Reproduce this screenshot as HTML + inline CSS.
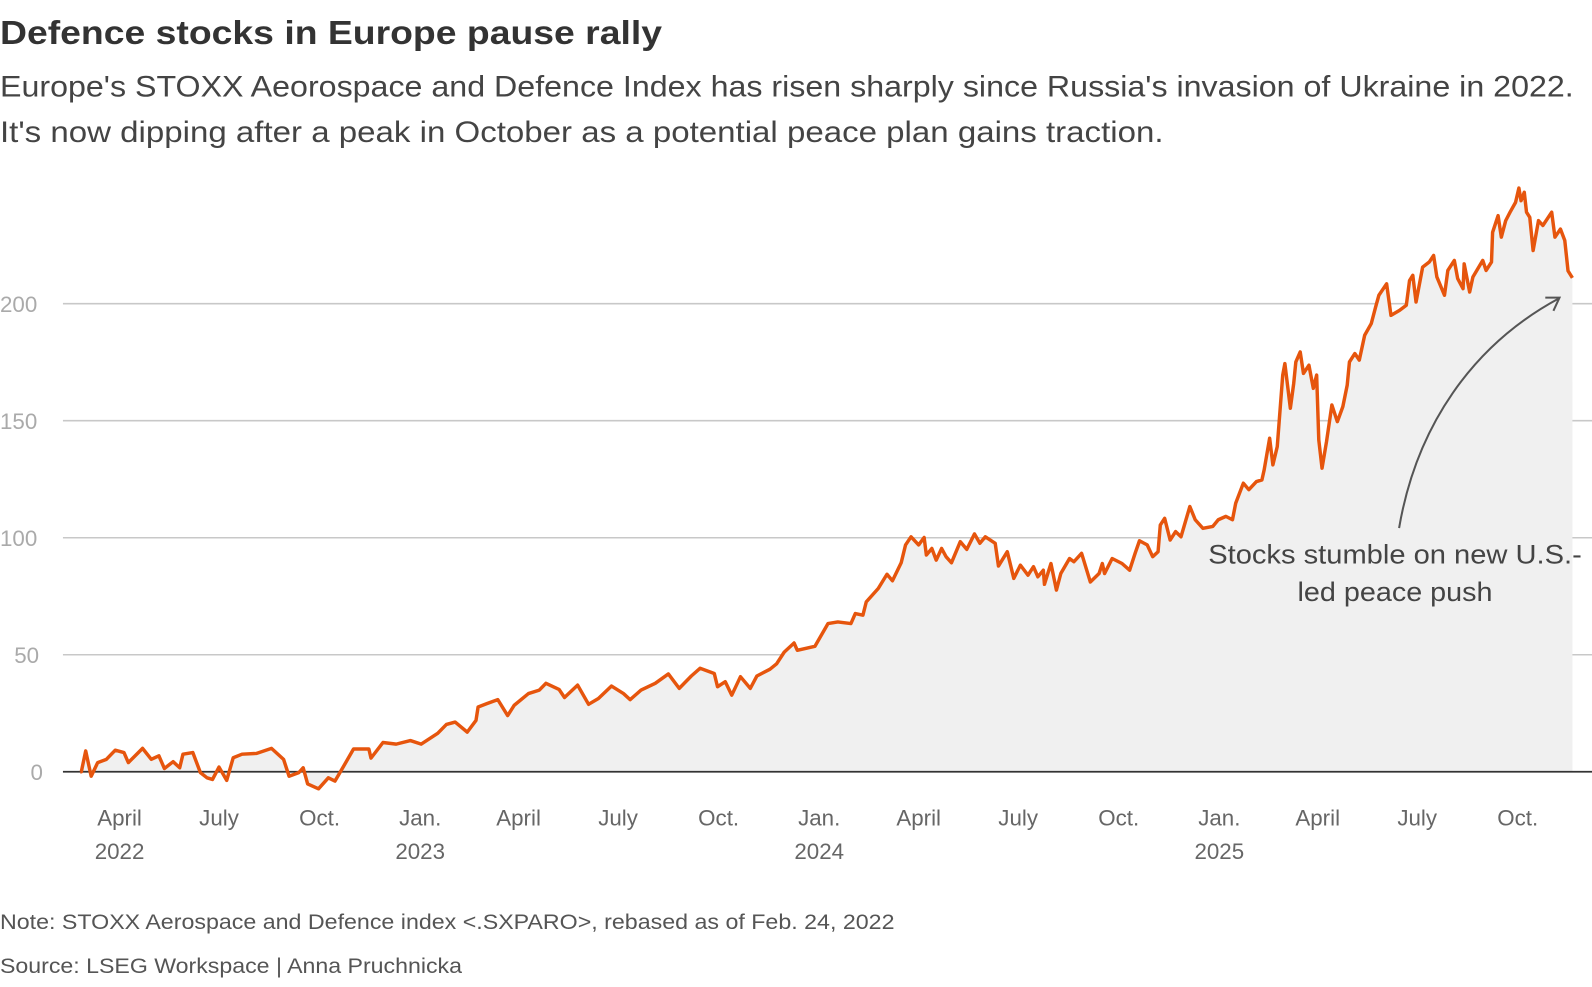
<!DOCTYPE html>
<html><head><meta charset="utf-8"><style>
body{margin:0;background:#fff;width:1592px;height:982px;overflow:hidden;font-family:"Liberation Sans",sans-serif;}
</style></head><body>
<svg width="1592" height="982" viewBox="0 0 1568 967" xmlns="http://www.w3.org/2000/svg">
<text x="0" y="43" font-size="33" font-weight="bold" fill="#333" textLength="652" lengthAdjust="spacingAndGlyphs">Defence stocks in Europe pause rally</text>
<text x="0" y="95" font-size="29" fill="#444" textLength="1550" lengthAdjust="spacingAndGlyphs">Europe's STOXX Aeorospace and Defence Index has risen sharply since Russia's invasion of Ukraine in 2022.</text>
<text x="0" y="140" font-size="29" fill="#444" textLength="1146" lengthAdjust="spacingAndGlyphs">It's now dipping after a peak in October as a potential peace plan gains traction.</text>
<g id="grid"></g>
<g id="area"></g>
<g id="xt"></g>
<text x="1190" y="555" font-size="26" fill="#444" textLength="368" lengthAdjust="spacingAndGlyphs">Stocks stumble on new U.S.-</text>
<text x="1278" y="592" font-size="26" fill="#444" textLength="192" lengthAdjust="spacingAndGlyphs">led peace push</text>
<path d="M1378,520 C1395,420 1450,340 1535,294" fill="none" stroke="#555" stroke-width="2"/>
<path d="M1522,293 L1536,293 L1530,306" fill="none" stroke="#555" stroke-width="2"/>
<text x="0" y="915" font-size="21" fill="#555" textLength="881" lengthAdjust="spacingAndGlyphs">Note: STOXX Aerospace and Defence index &lt;.SXPARO&gt;, rebased as of Feb. 24, 2022</text>
<text x="0" y="958" font-size="21" fill="#555" textLength="455" lengthAdjust="spacingAndGlyphs">Source: LSEG Workspace | Anna Pruchnicka</text>
</svg>
<script>
const days=[0,1,5,10,16,24,32,40,44,57,65,72,77,85,91,94,103,110,116,121,127,134,140,148,161,175,186,191,200,204,208,218,227,233,241,250,264,266,277,289,302,312,327,335,343,354,362,364,372,382,391,397,410,420,426,438,443,455,465,474,486,497,503,513,526,538,548,559,567,580,583,590,596,604,613,619,631,637,644,653,656,672,684,693,705,709,716,719,730,738,743,751,755,760,767,772,774,779,783,788,792,797,805,811,818,823,828,837,840,848,854,860,867,872,876,881,882,888,893,897,905,909,916,924,932,935,937,944,953,960,965,969,976,981,986,988,992,997,1002,1007,1015,1020,1027,1036,1041,1048,1054,1057,1064,1069,1076,1081,1083,1088,1091,1095,1100,1102,1107,1110,1112,1116,1119,1124,1128,1131,1133,1136,1140,1145,1150,1155,1159,1161,1166,1170,1175,1181,1185,1188,1195,1199,1207,1213,1216,1219,1222,1228,1234,1238,1241,1248,1251,1257,1260,1265,1266,1271,1274,1283,1286,1291,1292,1297,1300,1304,1308,1313,1316,1318,1321,1323,1326,1329,1334,1338,1346,1349,1354,1358,1361,1365];
const values=[0,0,8.9,-1.9,3.9,5.3,9.2,8.2,3.9,10,5.3,6.8,1.4,4.3,1.7,7.5,8.2,-0.4,-2.6,-3.3,2,-3.7,6,7.5,7.8,10,5.3,-1.9,-0.4,1.7,-5.2,-7.3,-2.6,-4,2.4,9.7,9.7,5.8,12.5,11.8,13.3,11.8,16.4,20.2,21.2,16.9,21.9,27.7,29.1,30.8,24,28.4,33.4,34.9,37.8,35.2,31.7,37,28.8,31.3,36.6,33.4,30.8,34.9,37.8,41.8,35.6,40.9,44.2,42,36.3,38.5,32.7,40.6,35.6,40.9,43.8,46.1,51.1,55,51.9,53.6,63.3,64,63.3,67.6,66.9,72.6,78.3,84.4,81.6,89.3,96.9,100.4,96.9,100.1,92.6,95.4,90.4,95.4,91.9,89.3,98.3,95,101.6,97.6,100.4,97.6,87.9,94,82.6,88.3,84,87.6,83.3,86.1,80.1,89,77.6,84.7,91.1,89.7,93.3,81.1,84.7,89,84.7,91.1,89,86.1,93.3,98.7,96.9,91.9,94,105.4,108.3,99,102.6,100.4,113.3,107.7,104,104.8,107.7,109.1,107.7,114.8,123.3,120.5,124,124.7,129,142.5,131.1,138.9,169.5,174.4,155.3,165.9,175.1,179.4,170.2,173.7,163.8,169.5,141.8,129.7,141,156.7,149.6,156,165.2,175.1,178.7,175.9,186.5,191.5,198.6,203.6,208.5,195,197.2,199.3,209.9,212.1,200.7,215.6,217.8,220.6,211.4,203.6,214.2,218.5,210.7,206.4,217,205,211.4,218.5,214.2,217.8,230.5,237.6,228.4,235.5,239.1,243.3,249.4,244,247.6,239.1,236.9,222.7,235.5,233.4,239.1,228.4,231.9,227,214,211];
const yTicks=[0,50,100,150,200];
const xTickDays=[36,127,219,311,401,492,584,676,767,858,950,1042,1132,1223,1315];
const xTickLabels=["April","July","Oct.","Jan.","April","July","Oct.","Jan.","April","July","Oct.","Jan.","April","July","Oct."];
const xTickYears=["2022","","","2023","","","","2024","","","","2025","","",""];

const NS="http://www.w3.org/2000/svg";
function xS(d){return 79+d*393/365;}
function yS(v){return 760-v*2.305;}
function mk(tag,attrs,parent){const e=document.createElementNS(NS,tag);for(const k in attrs)e.setAttribute(k,attrs[k]);parent.appendChild(e);return e;}
const grid=document.getElementById('grid');
yTicks.forEach(v=>{
  if(v!==0){const l=mk('line',{x1:62,x2:1568,y1:yS(v),y2:yS(v),stroke:'#c8c8c8','stroke-width':1.5},grid);
  
  }
  const t=mk('text',{x:v===0?30:(v===50?14:0),y:yS(v)+8,'font-size':22,fill:'#aaa'},grid);
  t.textContent=v;
  
  
});
const area=document.getElementById('area');
let pts=days.map((d,i)=>xS(d).toFixed(1)+','+yS(values[i]).toFixed(1));
const fill=mk('polygon',{points:xS(days[0])+','+yS(0)+' '+pts.join(' ')+' '+xS(days[days.length-1])+','+yS(0),fill:'#f0f0f0'},area);


const zl=mk('line',{x1:62,x2:1568,y1:yS(0),y2:yS(0),stroke:'#333','stroke-width':1.8},area);


const line=mk('polyline',{points:pts.join(' '),fill:'none',stroke:'#e6550d','stroke-width':3.4,'stroke-linejoin':'round'},area);


const xt=document.getElementById('xt');
xTickDays.forEach((d,i)=>{
  const t=mk('text',{x:xS(d),y:813,'font-size':22,fill:'#666','text-anchor':'middle'},xt);
  t.textContent=xTickLabels[i];
  
  
  if(xTickYears[i]){const y=mk('text',{x:xS(d),y:846,'font-size':22,fill:'#666','text-anchor':'middle'},xt);
  y.textContent=xTickYears[i];
  
  }
});
</script>
</body></html>
